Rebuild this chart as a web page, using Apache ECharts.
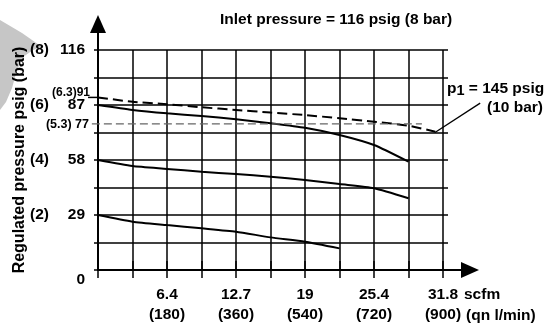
<!DOCTYPE html>
<html>
<head>
<meta charset="utf-8">
<script src="https://cdn.jsdelivr.net/npm/echarts@6/dist/echarts.min.js"></script>
<style>
html, body { margin: 0; padding: 0; background: #fff; }
#main { width: 548px; height: 325px; }
</style>
</head>
<body>
<div id="main"></div>
<script>
// flow in l/min (qn), regulated pressure in psig
var flowLpm = [0, 90, 180, 270, 360, 450, 540, 630, 720, 810];
var set87 = [87, 84.4, 82.6, 81.2, 79.5, 77.4, 75.0, 71.2, 65.9, 57.1];
var set58 = [58, 54.8, 53.3, 51.8, 50.6, 49.2, 47.5, 45.3, 43.1, 37.8];
var set29 = [29, 25.5, 23.7, 22.0, 20.2, 17.2, 14.9, 11.4];

// p1 = 145 psig curve (dashed)
var flowP1 = [0, 90, 180, 270, 360, 450, 540, 630, 720, 810, 880];
var setP1 = [91, 88.7, 87.4, 85.8, 84.4, 83.0, 81.7, 80.0, 78.2, 76.1, 72.9];

// thin grey reference at 77 psig, short tick at 91 psig, callout leader
var ref77Flow = [-16, 845];
var ref77 = [77, 77];
var tick91Flow = [-26, 0];
var tick91 = [91, 91];
var calloutFlow = [879, 997];
var calloutPsig = [72.5, 88];

// tick labels
var psigTicks = [0, 29, 58, 87, 116];
var barTicks = ['', '(2)', '(4)', '(6)', '(8)'];
var lpmTicks = [180, 360, 540, 720, 900];
var scfmTicks = ['6.4', '12.7', '19', '25.4', '31.8'];

var FONT = 'Liberation Sans';
var FS = 15.5;

// plot box (px)
var W = 548, H = 325;
var GL = 98, GR = 443, GT = 50, GB = 270;
var XMAX = 900, YMAX = 116;

function zip(xs, ys) {
  var out = [];
  for (var i = 0; i < ys.length; i++) out.push([xs[i], ys[i]]);
  return out;
}
function findTick(arr, v) {
  for (var i = 0; i < arr.length; i++) {
    if (Math.abs(arr[i] - v) < 0.01) return i;
  }
  return -1;
}

var chartDom = document.getElementById('main');
var myChart = echarts.init(chartDom);
var option;

var hidden = { show: false };
var gridColor = '#000';
var bold = { fontFamily: FONT, fontSize: FS, fontWeight: 'bold', color: '#000' };

// full-canvas grid with the same scale, for annotations outside the plot box
var annoX = [-GL / (GR - GL) * XMAX, (W - GL) / (GR - GL) * XMAX];
var annoY = [-(H - GB) / (GB - GT) * YMAX, GB / (GB - GT) * YMAX];

option = {
  animation: false,
  backgroundColor: '#fff',
  title: {
    text: 'Inlet pressure = 116 psig (8 bar)',
    left: 220,
    top: 12,
    padding: 0,
    textStyle: bold
  },
  grid: [
    { left: GL, right: W - GR, top: GT, bottom: H - GB },
    { left: GL, right: 78, top: 24, bottom: H - GB },
    { left: 0, right: 0, top: 0, bottom: 0 }
  ],
  xAxis: [
    {
      type: 'value', gridIndex: 0, position: 'bottom',
      min: 0, max: XMAX, interval: 90,
      axisLine: hidden,
      axisTick: { show: true, length: 8, lineStyle: { color: gridColor, width: 1.5 } },
      splitLine: { show: true, lineStyle: { color: gridColor, width: 1.5 } },
      axisLabel: Object.assign({
        margin: 15, lineHeight: 20,
        formatter: function (v) {
          var i = findTick(lpmTicks, v);
          if (i < 0) return '';
          return scfmTicks[i] + '\n(' + lpmTicks[i] + ')';
        }
      }, bold)
    },
    {
      type: 'value', gridIndex: 0, position: 'top',
      min: 0, max: XMAX, interval: 90,
      axisLine: hidden, axisLabel: hidden, splitLine: hidden,
      axisTick: { show: true, length: 9, lineStyle: { color: gridColor, width: 1.5 } }
    },
    {
      type: 'value', gridIndex: 1, min: 0, max: 1,
      axisLine: {
        show: true, symbol: ['none', 'triangle'], symbolSize: [16, 18],
        lineStyle: { color: '#000', width: 2 }
      },
      axisTick: hidden, axisLabel: hidden, splitLine: hidden
    },
    {
      type: 'value', gridIndex: 2, min: annoX[0], max: annoX[1], show: false
    }
  ],
  yAxis: [
    {
      type: 'value', gridIndex: 0, position: 'left',
      min: 0, max: YMAX, interval: 14.5,
      name: 'Regulated pressure psig (bar)',
      nameLocation: 'middle', nameGap: 70, nameRotate: 90,
      nameTextStyle: Object.assign({}, bold, { fontSize: 16 }),
      axisLine: hidden,
      axisTick: { show: true, length: 4, lineStyle: { color: gridColor, width: 1.5 } },
      splitLine: { show: true, lineStyle: { color: gridColor, width: 1.5 } },
      axisLabel: Object.assign({
        margin: 13,
        rich: { z: Object.assign({ padding: [20, 0, 0, 0] }, bold) },
        formatter: function (v) {
          var i = findTick(psigTicks, v);
          if (i < 0) return '';
          if (i === 0) return '{z|0}';
          return String(psigTicks[i]);
        }
      }, bold)
    },
    {
      type: 'value', gridIndex: 0, position: 'left',
      min: 0, max: YMAX, interval: 14.5,
      axisLine: hidden, axisTick: hidden, splitLine: hidden,
      axisLabel: Object.assign({
        margin: 49,
        formatter: function (v) {
          var i = findTick(psigTicks, v);
          return i < 0 ? '' : barTicks[i];
        }
      }, bold)
    },
    {
      type: 'value', gridIndex: 0, position: 'right',
      min: 0, max: YMAX, interval: 14.5,
      axisLine: hidden, axisLabel: hidden, splitLine: hidden,
      axisTick: { show: true, length: 5, lineStyle: { color: gridColor, width: 1.5 } }
    },
    {
      type: 'value', gridIndex: 1, min: 0, max: 1,
      axisLine: {
        show: true, symbol: ['none', 'triangle'], symbolSize: [16, 18],
        lineStyle: { color: '#000', width: 2 }
      },
      axisTick: hidden, axisLabel: hidden, splitLine: hidden
    },
    {
      type: 'value', gridIndex: 2, min: annoY[0], max: annoY[1], show: false
    }
  ],
  graphic: [
    {
      type: 'polygon', z: -10, silent: true,
      shape: { points: [[0, 20], [22, 33], [42, 47], [33, 50], [23, 57], [17, 70], [12, 88], [6, 102], [0, 110]] },
      style: { fill: '#c6c6c6' }
    },
    {
      type: 'text', right: W - 90, top: 87,
      style: { text: '(6.3)91', font: 'bold 12px "' + FONT + '"', fill: '#000' }
    },
    {
      type: 'text', right: W - 89, top: 118,
      style: { text: '(5.3) 77', font: 'bold 12.5px "' + FONT + '"', fill: '#000' }
    },
    {
      type: 'text', left: 447, top: 79,
      style: {
        text: '{a|p}{s|1}{a| = 145 psig}',
        rich: {
          a: { fontFamily: FONT, fontSize: FS, fontWeight: 'bold', fill: '#000', lineHeight: 18 },
          s: { fontFamily: FONT, fontSize: 14.5, fontWeight: 'bold', fill: '#000', lineHeight: 18, padding: [4, 0, 0, 0] }
        }
      }
    },
    {
      type: 'text', left: 487, top: 100,
      style: { text: '(10 bar)', font: 'bold ' + FS + 'px "' + FONT + '"', fill: '#000' }
    },
    {
      type: 'text', left: 464, top: 287,
      style: { text: 'scfm', font: 'bold ' + FS + 'px "' + FONT + '"', fill: '#000' }
    },
    {
      type: 'text', left: 466, top: 308,
      style: { text: '(qn l/min)', font: 'bold ' + FS + 'px "' + FONT + '"', fill: '#000' }
    }
  ],
  series: [
    {
      type: 'line', name: 'set 87', xAxisIndex: 0, yAxisIndex: 0,
      data: zip(flowLpm, set87), smooth: 0.2, showSymbol: false, silent: true,
      lineStyle: { color: '#000', width: 2 }
    },
    {
      type: 'line', name: 'set 58', xAxisIndex: 0, yAxisIndex: 0,
      data: zip(flowLpm, set58), smooth: 0.2, showSymbol: false, silent: true,
      lineStyle: { color: '#000', width: 2 }
    },
    {
      type: 'line', name: 'set 29', xAxisIndex: 0, yAxisIndex: 0,
      data: zip(flowLpm, set29), smooth: 0.2, showSymbol: false, silent: true,
      lineStyle: { color: '#000', width: 2 }
    },
    {
      type: 'line', name: 'p1 145 psig', xAxisIndex: 0, yAxisIndex: 0,
      data: zip(flowP1, setP1), smooth: 0.2, showSymbol: false, silent: true,
      lineStyle: { color: '#000', width: 2, type: [10, 5] }
    },
    {
      type: 'line', name: 'ref 77', xAxisIndex: 3, yAxisIndex: 4,
      data: zip(ref77Flow, ref77), showSymbol: false, silent: true,
      lineStyle: { color: '#666', width: 1.2, type: [8, 4] }
    },
    {
      type: 'line', name: 'tick 91', xAxisIndex: 3, yAxisIndex: 4,
      data: zip(tick91Flow, tick91), showSymbol: false, silent: true,
      lineStyle: { color: '#000', width: 1.5 }
    },
    {
      type: 'line', name: 'callout', xAxisIndex: 3, yAxisIndex: 4,
      data: zip(calloutFlow, calloutPsig), showSymbol: false, silent: true,
      lineStyle: { color: '#000', width: 1.3 }
    }
  ]
};

option && myChart.setOption(option);
window.addEventListener('resize', function () {
  myChart.resize();
});
</script>
</body>
</html>
